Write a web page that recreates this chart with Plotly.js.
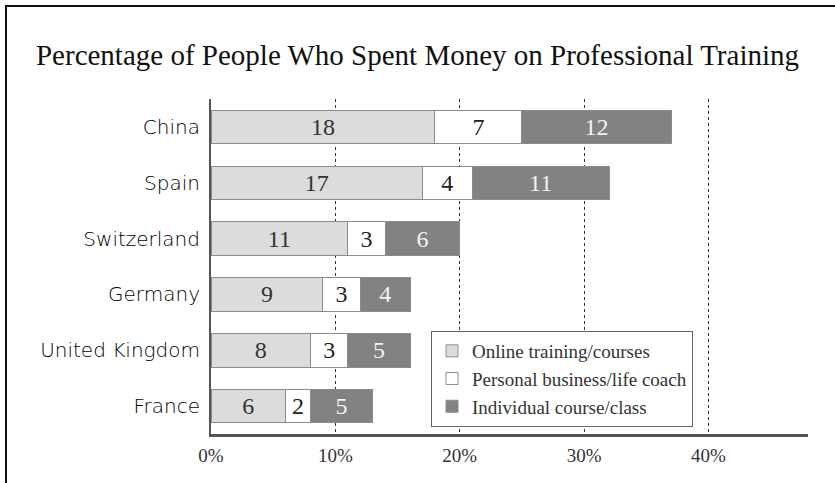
<!DOCTYPE html>
<html>
<head>
<meta charset="utf-8">
<script src="https://cdn.plot.ly/plotly-3.0.1.min.js"></script>
<style>
  html, body { margin: 0; padding: 0; background: #fff; }
  #chart { width: 835px; height: 483px; position: absolute; left: 0; top: 0; }
  #frame { position: absolute; left: 5px; top: 5px; width: 830px; height: 478px;
           border-top: 2px solid #111; border-left: 2px solid #111; pointer-events: none; }
</style>
</head>
<body>
<div id="chart"></div>
<div id="frame"></div>
<script>
const countries = ["China", "Spain", "Switzerland", "Germany", "United Kingdom", "France"];
const onlineTraining = [18, 17, 11, 9, 8, 6];
const personalCoach = [7, 4, 3, 3, 3, 2];
const individualCourse = [12, 11, 6, 4, 5, 5];
const seriesNames = ["Online training/courses", "Personal business/life coach", "Individual course/class"];
const xTickVals = [0, 10, 20, 30, 40];
const xTickText = ["0%", "10%", "20%", "30%", "40%"];

const serif = "Liberation Serif, Times New Roman, serif";
const sans = "DejaVu Sans, sans-serif";

function mkTrace(vals, name, fill, textColor) {
  return {
    type: "bar",
    orientation: "h",
    y: countries,
    x: vals,
    name: name,
    text: vals.map(String),
    textposition: "inside",
    insidetextanchor: "middle",
    constraintext: "none",
    textfont: { family: serif, size: 24, color: textColor },
    marker: { color: fill, line: { color: "#8c8c8c", width: 1 } },
    hoverinfo: "skip"
  };
}

const data = [
  mkTrace(onlineTraining, seriesNames[0], "#dcdcdc", "#333"),
  mkTrace(personalCoach, seriesNames[1], "#ffffff", "#222"),
  mkTrace(individualCourse, seriesNames[2], "#828282", "#f2f2f2")
];

const layout = {
  width: 835,
  height: 483,
  margin: { l: 211, r: 27, t: 99, b: 49 },
  paper_bgcolor: "#fff",
  plot_bgcolor: "#fff",
  barmode: "stack",
  bargap: 0.4,
  showlegend: true,
  title: {
    text: "Percentage of People Who Spent Money on Professional Training",
    font: { family: serif, size: 29, color: "#111" },
    x: 0.5, xanchor: "center", xref: "container",
    y: 1 - 55 / 483, yanchor: "middle", yref: "container"
  },
  xaxis: {
    range: [0, 48],
    tickmode: "array",
    tickvals: xTickVals,
    ticktext: xTickText,
    ticks: "outside",
    ticklen: 2,
    tickcolor: "rgba(0,0,0,0)",
    tickfont: { family: serif, size: 19, color: "#333" },
    showgrid: true,
    gridcolor: "#333",
    gridwidth: 1,
    griddash: "dot",
    zeroline: false,
    showline: true,
    linecolor: "#555",
    linewidth: 3,
    fixedrange: true
  },
  yaxis: {
    autorange: "reversed",
    ticks: "outside",
    ticklen: 5,
    tickcolor: "rgba(0,0,0,0)",
    tickfont: { family: sans, size: 20, color: "#000", weight: 200 },
    showgrid: false,
    zeroline: false,
    showline: true,
    linecolor: "#555",
    linewidth: 2,
    fixedrange: true
  },
  legend: {
    x: (431 - 211) / 597,
    y: (434 - 331) / 335,
    xanchor: "left",
    yanchor: "top",
    traceorder: "normal",
    bgcolor: "#fff",
    bordercolor: "#666",
    borderwidth: 1,
    font: { family: serif, size: 19, color: "#333" }
  }
};

Plotly.newPlot("chart", data, layout, { displayModeBar: false, staticPlot: true });
</script>
</body>
</html>
